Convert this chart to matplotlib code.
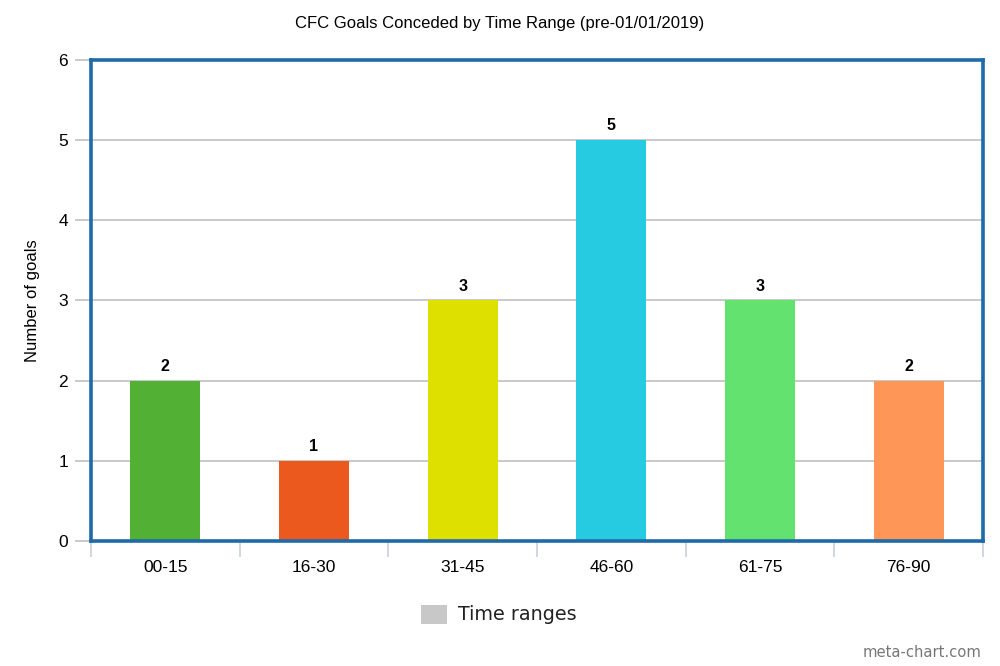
import matplotlib
matplotlib.use("Agg")
from matplotlib import pyplot as plt
from matplotlib.patches import Rectangle
import numpy as np

# data
ranges = ["00-15", "16-30", "31-45", "46-60", "61-75", "76-90"]
goals = [2, 1, 3, 5, 3, 2]
bar_colors = ["#52b135", "#ec591e", "#dee000", "#26cbe2", "#63e26f", "#fe9658"]

plt.rcParams['font.family'] = ['Liberation Sans', 'DejaVu Sans']

fig = plt.figure(figsize=(10, 6.66), dpi=100, facecolor="white")
ax = fig.add_axes([0.091, 0.1877, 0.892, 0.7223])

x = np.arange(len(ranges))
bars = ax.bar(x, goals, width=0.47, color=bar_colors, zorder=3)

for xi, g in zip(x, goals):
    ax.annotate(str(g), (xi, g), xytext=(0, 5), textcoords="offset points",
                ha="center", va="bottom", fontsize=11.5, fontweight="bold")

ax.set_xlim(-0.5, len(ranges) - 0.5)
ax.set_ylim(0, 6)
ax.set_yticks(range(0, 7))
ax.yaxis.grid(True, color="#c0c0c0", linewidth=1.2, zorder=0)
ax.tick_params(axis="y", length=11.5, color="#c0c0c0", width=1.2, labelsize=12.5, pad=5)

# category ticks sit on the boundaries, labels in the middle
ax.set_xticks(np.arange(-0.5, len(ranges)), minor=False)
ax.set_xticklabels([])
ax.set_xticks(x, minor=True)
ax.set_xticklabels(ranges, minor=True)
ax.tick_params(axis="x", which="major", length=11.5, color="#c8d0d8", width=1.2)
ax.tick_params(axis="x", which="minor", length=0, labelsize=12.5, pad=14)

for s in ax.spines.values():
    s.set_color("#1f6aa8")
    s.set_linewidth(2.6)
    s.set_zorder(4)

ax.set_ylabel("Number of goals", fontsize=12, labelpad=13)
fig.text(0.5, 0.964, "CFC Goals Conceded by Time Range (pre-01/01/2019)",
         ha="center", va="center", fontsize=12)

# legend box
fig.patches.append(Rectangle((0.421, 0.063), 0.026, 0.029, transform=fig.transFigure,
                             facecolor="#c8c8c8", edgecolor="none"))
fig.text(0.458, 0.077, "Time ranges", ha="left", va="center", fontsize=13.8,
         family="DejaVu Sans", color="#222222")

fig.text(0.982, 0.02, "meta-chart.com", ha="right", va="center", fontsize=10.6,
         family="DejaVu Sans", color="#777777")

fig.savefig("out.png", dpi=100)
